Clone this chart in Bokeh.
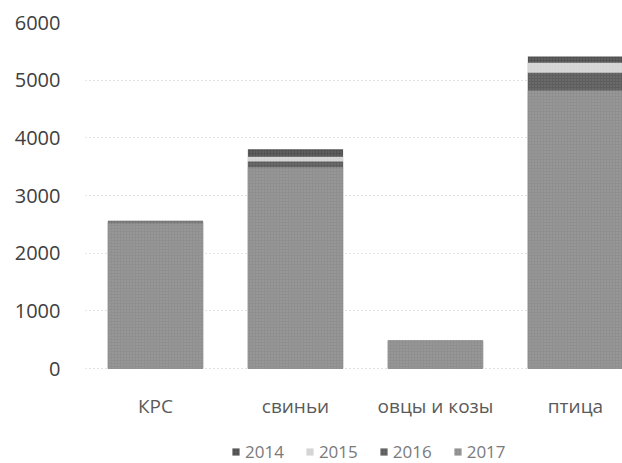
from bokeh.plotting import figure
from bokeh.models import Range1d, FixedTicker, Legend, LegendItem, ColumnDataSource
from bokeh.core.properties import value
from bokeh.embed import file_html
from bokeh.resources import INLINE

categories = ["КРС", "свиньи", "овцы и козы", "птица"]
years = ["2014", "2015", "2016", "2017"]
v2014 = [2560, 3800, 490, 5410]
v2015 = [2545, 3670, 485, 5300]
v2016 = [2535, 3590, 480, 5130]
v2017 = [2520, 3490, 478, 4820]
y_ticks = [0, 1000, 2000, 3000, 4000, 5000, 6000]
colors = ["#525252", "#d4d4d4", "#5e5e5e", "#8f8f8f"]

FONT = "Open Sans"
xs = list(range(len(categories)))

# frame spans y=22..463 px; value 0 sits at y=368 px, 6000 at y=22 px
px_per_unit = 346 / 6000
y_bottom = -95 / px_per_unit
label_y = -37 / px_per_unit

p = figure(width=622, height=463, output_backend="svg", toolbar_location=None,
           x_range=Range1d(-0.5, 3.336), y_range=Range1d(y_bottom, 6000),
           x_axis_location=None,
           min_border_left=85, min_border_right=0, min_border_top=22,
           min_border_bottom=0)
p.outline_line_color = None
p.background_fill_color = "white"
p.border_fill_color = "white"

items = []
for yr, vals, col in zip(years, [v2014, v2015, v2016, v2017], colors):
    src = ColumnDataSource(dict(x=xs, top=vals))
    r = p.vbar(x="x", top="top", width=0.68, source=src, fill_color=col, line_color=None,
               hatch_pattern=".", hatch_color="#ffffff", hatch_alpha=0.18, hatch_scale=3)
    items.append(LegendItem(label=yr, renderers=[r]))

# category labels under the bars
lab_src = ColumnDataSource(dict(x=xs, y=[label_y] * len(xs), text=categories))
p.text(x="x", y="y", text="text", source=lab_src, text_align="center",
       text_baseline="middle", text_font=value(FONT), text_font_size="19px",
       text_color="#5a5a5a")

p.yaxis.ticker = FixedTicker(ticks=y_ticks)
p.yaxis.axis_line_color = None
p.yaxis.major_tick_line_color = None
p.yaxis.minor_tick_line_color = None
p.yaxis.major_label_text_font = FONT
p.yaxis.major_label_text_font_size = "20px"
p.yaxis.major_label_text_color = "#404040"
p.yaxis.major_label_standoff = 19

p.xgrid.grid_line_color = None
p.ygrid.ticker = FixedTicker(ticks=y_ticks)
p.ygrid.grid_line_color = "#c4c4c4"
p.ygrid.grid_line_dash = "1 3"
p.ygrid.grid_line_width = 1

legend = Legend(items=items, orientation="horizontal", location=(146, 0),
                label_text_font=FONT, label_text_font_size="17px",
                label_text_color="#7a7a7a", glyph_width=9, glyph_height=9,
                label_standoff=5, spacing=21, border_line_color=None,
                background_fill_alpha=0, padding=0, margin=0)
p.add_layout(legend, "center")

open("out.html", "w").write(file_html(p, INLINE))
